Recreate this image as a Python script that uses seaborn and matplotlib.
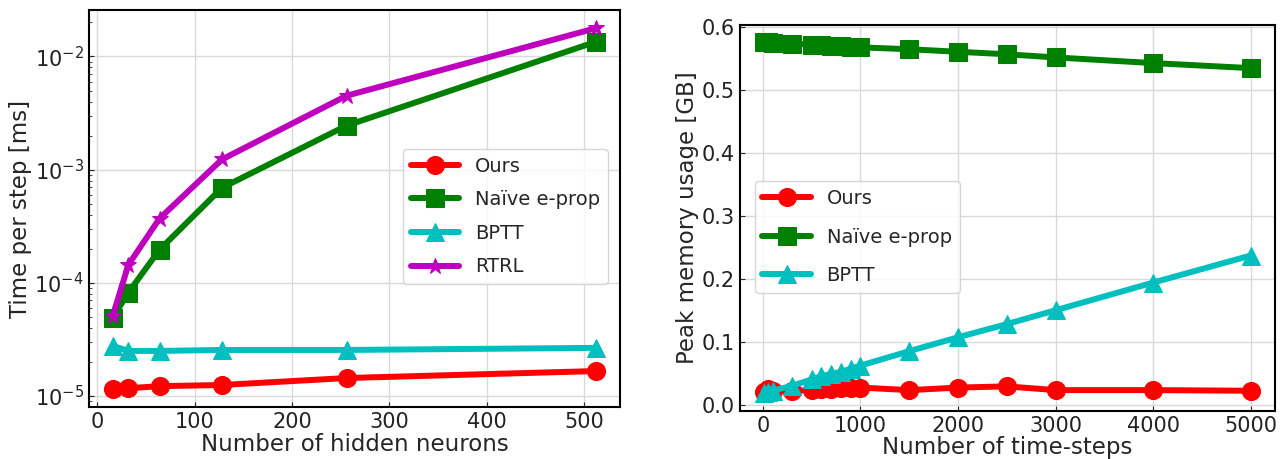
import numpy as np
import pandas as pd
import matplotlib
matplotlib.use("Agg")
import matplotlib.pyplot as plt
import seaborn as sns

sns.set_style("ticks")
plt.rcParams["font.family"] = ["DejaVu Sans"]

# left panel: time per step vs hidden neurons
neurons = [16, 32, 64, 128, 256, 512]
time_ours = [1.15e-5, 1.17e-5, 1.22e-5, 1.25e-5, 1.44e-5, 1.66e-5]
time_naive = [4.9e-5, 8.2e-5, 1.96e-4, 6.9e-4, 2.45e-3, 1.35e-2]
time_bptt = [2.77e-5, 2.5e-5, 2.5e-5, 2.55e-5, 2.55e-5, 2.66e-5]
time_rtrl = [5.1e-5, 1.44e-4, 3.7e-4, 1.23e-3, 4.5e-3, 1.78e-2]

# right panel: peak memory vs time-steps
steps = [10, 50, 100, 300, 500, 600, 700, 800, 900, 1000, 1500, 2000, 2500, 3000, 4000, 5000]
mem_ours = [0.020, 0.024, 0.022, 0.022, 0.023, 0.024, 0.025, 0.026, 0.027, 0.027,
            0.023, 0.027, 0.029, 0.023, 0.023, 0.022]
mem_naive = [0.576, 0.576, 0.575, 0.574, 0.572, 0.571, 0.570, 0.570, 0.569, 0.568,
             0.565, 0.561, 0.557, 0.552, 0.543, 0.535]
mem_bptt = [0.018, 0.020, 0.022, 0.030, 0.040, 0.045, 0.049, 0.052, 0.057, 0.062,
            0.085, 0.107, 0.128, 0.150, 0.194, 0.237]

styles = {
    "Ours": ("r", "o", 13),
    "Naïve e-prop": ("g", "s", 13),
    "BPTT": ("c", "^", 13),
    "RTRL": ("m", "*", 12),
}

fig = plt.figure(figsize=(12.84, 4.59), dpi=100)
ax1 = fig.add_axes([0.069, 0.113, 0.414, 0.865])
ax2 = fig.add_axes([0.576, 0.105, 0.417, 0.841])


def draw(ax, x, series):
    for name, vals in series:
        c, m, ms = styles[name]
        sns.lineplot(x=x, y=vals, ax=ax, color=c, marker=m, markersize=ms,
                     mec=c, mfc=c, linewidth=4.3, label=name)


draw(ax1, neurons, [("Ours", time_ours), ("Naïve e-prop", time_naive),
                    ("BPTT", time_bptt), ("RTRL", time_rtrl)])
ax1.set_yscale("log")
ax1.set_xlabel("Number of hidden neurons", fontsize=16.5, labelpad=1)
ax1.set_ylabel("Time per step [ms]", fontsize=16.5, labelpad=2)

draw(ax2, steps, [("Ours", mem_ours), ("Naïve e-prop", mem_naive), ("BPTT", mem_bptt)])
ax2.set_xlabel("Number of time-steps", fontsize=16.5, labelpad=0)
ax2.set_ylabel("Peak memory usage [GB]", fontsize=16.5, labelpad=2)
ax2.set_yticks([0.0, 0.1, 0.2, 0.3, 0.4, 0.5, 0.6])
ax2.set_xticks([0, 1000, 2000, 3000, 4000, 5000])

for ax in (ax1, ax2):
    ax.grid(True, color="#d9d9d9", linewidth=1)
    ax.tick_params(direction="in", which="both", labelsize=15, labelcolor="#222222")
    for s in ax.spines.values():
        s.set_color("black")
        s.set_linewidth(1.5)

ax1.legend(loc="center right", bbox_to_anchor=(0.995, 0.48), fontsize=14,
           handlelength=2.5, labelspacing=0.75)
ax2.legend(loc="center left", bbox_to_anchor=(0.01, 0.45), fontsize=14,
           handlelength=2.5, labelspacing=1.0)

fig.savefig("out.png", dpi=100)
